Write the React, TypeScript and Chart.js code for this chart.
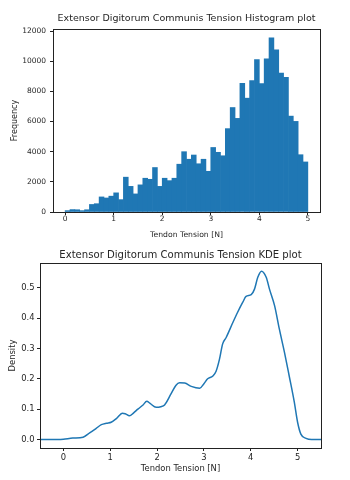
import React, { useEffect, useRef } from "react";
import { Chart, registerables } from "chart.js";

Chart.register(...registerables);

// ---------- Data ----------
const histTitle = "Extensor Digitorum Communis Tension Histogram plot";
const kdeTitle = "Extensor Digitorum Communis Tension KDE plot";
const xLabel = "Tendon Tension [N]";

const histBinCenters = [
  0.05, 0.15, 0.25, 0.35, 0.45, 0.55, 0.65, 0.75, 0.85, 0.95,
  1.05, 1.15, 1.25, 1.35, 1.45, 1.55, 1.65, 1.75, 1.85, 1.95,
  2.05, 2.15, 2.25, 2.35, 2.45, 2.55, 2.65, 2.75, 2.85, 2.95,
  3.05, 3.15, 3.25, 3.35, 3.45, 3.55, 3.65, 3.75, 3.85, 3.95,
  4.05, 4.15, 4.25, 4.35, 4.45, 4.55, 4.65, 4.75, 4.85, 4.95,
];
const histCounts = [
  90, 160, 150, 90, 150, 500, 550, 1000, 930, 1050,
  1270, 820, 2310, 1700, 1200, 1800, 2240, 2170, 2950, 1700,
  2240, 2080, 2240, 3170, 4000, 3500, 3780, 3200, 3500, 2700,
  4280, 3960, 3730, 5530, 6930, 6210, 8530, 7550, 8710, 10110,
  8510, 10160, 11560, 10750, 9210, 8930, 6360, 6010, 3800, 3320,
];
const histXTicks = [0, 1, 2, 3, 4, 5];
const histYTicks = [0, 2000, 4000, 6000, 8000, 10000, 12000];

const kdeX = [
  -0.5, -0.1, 0.0, 0.2, 0.42, 0.56, 0.7, 0.81, 0.92, 1.02,
  1.13, 1.26, 1.32, 1.41, 1.5, 1.59, 1.7, 1.78, 1.85, 1.98,
  2.08, 2.16, 2.3, 2.4, 2.48, 2.59, 2.73, 2.91, 3.0, 3.08,
  3.19, 3.26, 3.33, 3.4, 3.475, 3.62, 3.72, 3.83, 3.9, 4.01,
  4.08, 4.15, 4.23, 4.33, 4.4, 4.51, 4.61, 4.72, 4.82, 4.93,
  5.0, 5.07, 5.18, 5.3, 5.5,
];
const kdeDensity = [
  0.0, 0.0, 0.001, 0.005, 0.008, 0.022, 0.037, 0.049, 0.054, 0.057,
  0.069, 0.087, 0.085, 0.078, 0.088, 0.1, 0.114, 0.126, 0.119, 0.106,
  0.108, 0.114, 0.151, 0.178, 0.187, 0.186, 0.175, 0.169, 0.184, 0.2,
  0.209, 0.225, 0.263, 0.315, 0.336, 0.386, 0.419, 0.452, 0.471, 0.477,
  0.495, 0.534, 0.554, 0.534, 0.495, 0.44, 0.364, 0.287, 0.21, 0.123,
  0.057, 0.018, 0.004, 0.0, 0.0,
];
const kdeXTicks = [0, 1, 2, 3, 4, 5];
const kdeYTicks = [0, 0.1, 0.2, 0.3, 0.4, 0.5];

const BLUE = "#1f77b4";
const FONT = "'DejaVu Sans', sans-serif";
const TEXT = "#262626";

const framePlugin = {
  id: "frame",
  afterDraw(chart: any) {
    const { ctx, chartArea } = chart;
    ctx.save();
    ctx.strokeStyle = "#222";
    ctx.lineWidth = 1;
    ctx.strokeRect(
      Math.round(chartArea.left) + 0.5,
      Math.round(chartArea.top) + 0.5,
      Math.round(chartArea.right - chartArea.left),
      Math.round(chartArea.bottom - chartArea.top)
    );
    const t = chart.options.plugins.axTitle;
    if (t) {
      ctx.fillStyle = TEXT;
      ctx.font = `${t.size}px ${FONT}`;
      ctx.textAlign = "center";
      ctx.textBaseline = "middle";
      ctx.fillText(t.text, (chartArea.left + chartArea.right) / 2, t.y);
    }
    ctx.restore();
  },
};

function useChart(ref: React.RefObject<HTMLCanvasElement | null>, make: () => any) {
  useEffect(() => {
    if (!ref.current) return;
    const chart = new Chart(ref.current, make());
    return () => chart.destroy();
  }, []);
}

export default function App() {
  const histRef = useRef<HTMLCanvasElement | null>(null);
  const kdeRef = useRef<HTMLCanvasElement | null>(null);

  useChart(histRef, () => ({
    type: "bar",
    data: {
      datasets: [
        {
          data: histBinCenters.map((x, i) => ({ x, y: histCounts[i] })),
          backgroundColor: BLUE,
          borderWidth: 0,
          barPercentage: 1,
          categoryPercentage: 1,
        },
      ],
    },
    options: {
      responsive: false,
      animation: false,
      devicePixelRatio: 1,
      layout: { padding: { top: 29, right: 30, bottom: 0, left: 0 } },
      plugins: {
        legend: { display: false },
        tooltip: { enabled: false },
        title: { display: false },
        axTitle: { text: histTitle, size: 9.5, y: 19 },
      },
      scales: {
        x: {
          type: "linear",
          min: -0.25,
          max: 5.25,
          offset: false,
          afterBuildTicks: (s: any) => {
            s.ticks = histXTicks.map((v) => ({ value: v }));
          },
          afterFit: (s: any) => {
            s.height = 28;
          },
          grid: { display: true, drawOnChartArea: false, offset: false, tickLength: 3, tickColor: "#222" },
          border: { display: false },
          ticks: { color: TEXT, font: { family: FONT, size: 7.5 }, padding: 0, maxRotation: 0, callback: (v: any) => String(v) },
          title: { display: true, text: xLabel, color: TEXT, font: { family: FONT, size: 7.7 }, padding: { top: 0, bottom: 0 } },
        },
        y: {
          type: "linear",
          min: 0,
          max: 12138,
          afterBuildTicks: (s: any) => {
            s.ticks = histYTicks.map((v) => ({ value: v }));
          },
          afterFit: (s: any) => {
            s.width = 53;
          },
          grid: { display: true, drawOnChartArea: false, tickLength: 3, tickColor: "#222" },
          border: { display: false },
          ticks: { color: TEXT, font: { family: FONT, size: 7.5 }, padding: 4, callback: (v: any) => String(v) },
          title: { display: true, text: "Frequency", color: TEXT, font: { family: FONT, size: 8 }, padding: { top: 10.5, bottom: 0 } },
        },
      },
    },
    plugins: [framePlugin],
  }));

  useChart(kdeRef, () => ({
    type: "line",
    data: {
      datasets: [
        {
          data: kdeX.map((x, i) => ({ x, y: kdeDensity[i] })),
          borderColor: BLUE,
          borderWidth: 1.5,
          pointRadius: 0,
          fill: false,
          cubicInterpolationMode: "monotone",
        },
      ],
    },
    options: {
      responsive: false,
      animation: false,
      devicePixelRatio: 1,
      layout: { padding: { top: 23, right: 29, bottom: 0, left: 0 } },
      plugins: {
        legend: { display: false },
        tooltip: { enabled: false },
        title: { display: false },
        axTitle: { text: kdeTitle, size: 10.1, y: 15 },
      },
      scales: {
        x: {
          type: "linear",
          min: -0.5,
          max: 5.5,
          afterBuildTicks: (s: any) => {
            s.ticks = kdeXTicks.map((v) => ({ value: v }));
          },
          afterFit: (s: any) => {
            s.height = 32;
          },
          grid: { display: true, drawOnChartArea: false, tickLength: 3, tickColor: "#222" },
          border: { display: false },
          ticks: { color: TEXT, font: { family: FONT, size: 8.4 }, padding: 2, maxRotation: 0, callback: (v: any) => String(v) },
          title: { display: true, text: xLabel, color: TEXT, font: { family: FONT, size: 8.4 }, padding: { top: 0, bottom: 6 } },
        },
        y: {
          type: "linear",
          min: -0.0277,
          max: 0.581,
          afterBuildTicks: (s: any) => {
            s.ticks = kdeYTicks.map((v) => ({ value: v }));
          },
          afterFit: (s: any) => {
            s.width = 40;
          },
          grid: { display: true, drawOnChartArea: false, tickLength: 3, tickColor: "#222" },
          border: { display: false },
          ticks: {
            color: TEXT,
            font: { family: FONT, size: 8.4 },
            padding: 2.5,
            callback: (v: any) => Number(v).toFixed(1),
          },
          title: { display: true, text: "Density", color: TEXT, font: { family: FONT, size: 8.4 }, padding: { top: 8, bottom: 0 } },
        },
      },
    },
    plugins: [framePlugin],
  }));

  return (
    <div style={{ position: "absolute", left: 0, top: 0, width: 350, height: 480, background: "#fff" }}>
      <canvas ref={histRef} width={350} height={240} style={{ position: "absolute", left: 0, top: 0, width: 350, height: 240 }} />
      <canvas ref={kdeRef} width={350} height={240} style={{ position: "absolute", left: 0, top: 240, width: 350, height: 240 }} />
    </div>
  );
}
